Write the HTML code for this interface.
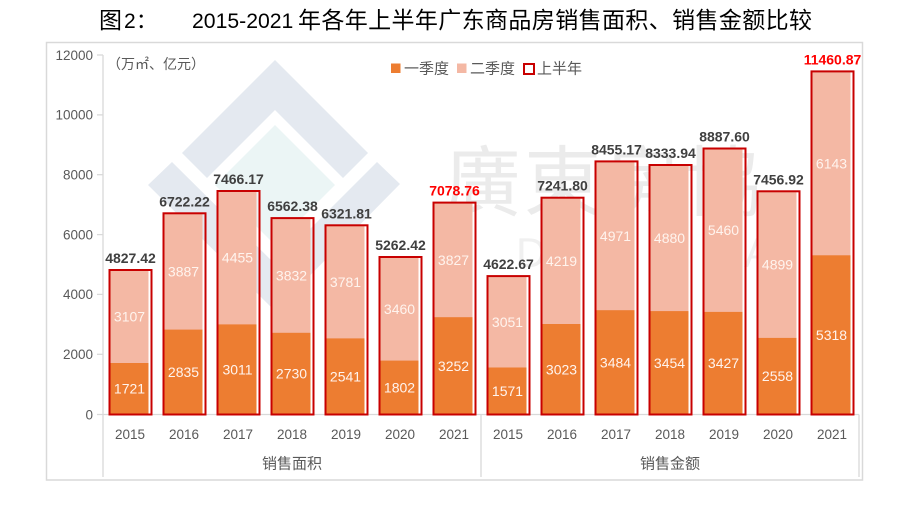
<!DOCTYPE html>
<html><head><meta charset="utf-8"><style>
html,body{margin:0;padding:0;background:#fff;}
svg{display:block;}
text{font-family:"Liberation Sans","Noto Sans CJK SC",sans-serif;}
.cjk{font-family:"Liberation Sans","Noto Sans CJK SC",sans-serif;}
.tk{font-size:13.5px;fill:#595959;}
.in{font-size:14px;fill:#fff4ee;text-anchor:middle;}
.tot{font-size:14px;font-weight:bold;fill:#404040;text-anchor:middle;}
.red{fill:#ff0000;}
</style></head><body>
<svg width="912" height="514" viewBox="0 0 912 514" xmlns="http://www.w3.org/2000/svg">
<rect width="912" height="514" fill="#fff"/>
<!-- Title -->
<text x="99" y="28" font-size="23" fill="#000" class="cjk">图</text>
<text x="124" y="28" font-size="21" fill="#000">2</text>
<text x="136" y="28" font-size="21" fill="#000" class="cjk">：</text>
<text x="192" y="28" font-size="21.2" fill="#000">2015-2021</text>
<text x="298" y="28" font-size="23" fill="#000" class="cjk" textLength="514" lengthAdjust="spacing">年各年上半年广东商品房销售面积、销售金额比较</text>

<!-- chart border -->
<rect x="46.5" y="42.5" width="816" height="437.5" fill="none" stroke="#d9d9d9" stroke-width="1.5"/>

<!-- watermark -->
<g>
<polygon points="275,60 368,153 343,178 275,110 207,178 182,153" fill="#e4e9f0"/>
<polygon points="275,125 335,185 275,245 215,185" fill="#ebf5f5"/>
<polygon points="172,162 148,185 275,311 400,184 377,162 275,264" fill="#e4e9f0"/>
<text x="444" y="210" font-size="77" fill="#ebebeb" class="cjk" letter-spacing="3">廣東房協</text>
<text x="516" y="267" font-size="42" fill="#f0f0f0">D</text>
<text x="744" y="267" font-size="42" fill="#f0f0f0">A</text>
</g>

<!-- y axis -->
<g stroke="#d9d9d9" stroke-width="1.3">
<line x1="103" y1="55" x2="103" y2="477"/>
<line x1="97" y1="55" x2="103" y2="55"/>
<line x1="97" y1="114.9" x2="103" y2="114.9"/>
<line x1="97" y1="174.7" x2="103" y2="174.7"/>
<line x1="97" y1="234.6" x2="103" y2="234.6"/>
<line x1="97" y1="294.4" x2="103" y2="294.4"/>
<line x1="97" y1="354.3" x2="103" y2="354.3"/>
<line x1="97" y1="414.5" x2="859" y2="414.5"/>
<line x1="481" y1="414.5" x2="481" y2="477"/>
<line x1="859" y1="414.5" x2="859" y2="477"/>
</g>
<g class="tk" text-anchor="end">
<text x="93" y="59.8" class="tk">12000</text>
<text x="93" y="119.7" class="tk">10000</text>
<text x="93" y="179.5" class="tk">8000</text>
<text x="93" y="239.4" class="tk">6000</text>
<text x="93" y="299.2" class="tk">4000</text>
<text x="93" y="359.1" class="tk">2000</text>
<text x="93" y="419.3" class="tk">0</text>
</g>

<!-- unit -->
<text x="107" y="69" font-size="14" fill="#595959" class="cjk">（万㎡、亿元）</text>

<!-- legend -->
<rect x="391" y="63.5" width="9.5" height="9.5" fill="#ed7d31"/>
<text x="404" y="73.5" font-size="15" fill="#595959" class="cjk">一季度</text>
<rect x="457" y="63.5" width="9.5" height="9.5" fill="#f4b8a4"/>
<text x="470" y="73.5" font-size="15" fill="#595959" class="cjk">二季度</text>
<rect x="524" y="64" width="10" height="10" fill="#fff" stroke="#c80000" stroke-width="2"/>
<text x="537" y="73.5" font-size="15" fill="#595959" class="cjk">上半年</text>

<!-- bars -->
<g transform="translate(0.5,0)">
<!-- fills Q2 (full to total) then Q1 -->
<g fill="#f4b8a4">
<rect x="110" y="270.0" width="38" height="144.5"/>
<rect x="164" y="213.3" width="38" height="201.2"/>
<rect x="218" y="191.0" width="38" height="223.5"/>
<rect x="272" y="218.1" width="38" height="196.4"/>
<rect x="326" y="225.3" width="38" height="189.2"/>
<rect x="380" y="257.0" width="38" height="157.5"/>
<rect x="434" y="202.6" width="38" height="211.9"/>
<rect x="488" y="276.1" width="38" height="138.4"/>
<rect x="542" y="197.7" width="38" height="216.8"/>
<rect x="596" y="161.4" width="38" height="253.1"/>
<rect x="650" y="165.0" width="38" height="249.5"/>
<rect x="704" y="148.5" width="38" height="266.0"/>
<rect x="758" y="191.3" width="38" height="223.2"/>
<rect x="812" y="71.4" width="38" height="343.1"/>
</g>
<g fill="#ed7d31">
<rect x="110" y="363.0" width="38" height="51.5"/>
<rect x="164" y="329.6" width="38" height="84.9"/>
<rect x="218" y="324.4" width="38" height="90.1"/>
<rect x="272" y="332.8" width="38" height="81.7"/>
<rect x="326" y="338.4" width="38" height="76.1"/>
<rect x="380" y="360.6" width="38" height="53.9"/>
<rect x="434" y="317.2" width="38" height="97.3"/>
<rect x="488" y="367.5" width="38" height="47.0"/>
<rect x="542" y="324.0" width="38" height="90.5"/>
<rect x="596" y="310.2" width="38" height="104.3"/>
<rect x="650" y="311.1" width="38" height="103.4"/>
<rect x="704" y="311.9" width="38" height="102.6"/>
<rect x="758" y="337.9" width="38" height="76.6"/>
<rect x="812" y="255.3" width="38" height="159.2"/>
</g>
<g fill="none" stroke="#c80000" stroke-width="2">
<rect x="109" y="270.0" width="42" height="144.5"/>
<rect x="163" y="213.3" width="42" height="201.2"/>
<rect x="217" y="191.0" width="42" height="223.5"/>
<rect x="271" y="218.1" width="42" height="196.4"/>
<rect x="325" y="225.3" width="42" height="189.2"/>
<rect x="379" y="257.0" width="42" height="157.5"/>
<rect x="433" y="202.6" width="42" height="211.9"/>
<rect x="487" y="276.1" width="42" height="138.4"/>
<rect x="541" y="197.7" width="42" height="216.8"/>
<rect x="595" y="161.4" width="42" height="253.1"/>
<rect x="649" y="165.0" width="42" height="249.5"/>
<rect x="703" y="148.5" width="42" height="266.0"/>
<rect x="757" y="191.3" width="42" height="223.2"/>
<rect x="811" y="71.4" width="42" height="343.1"/>
</g>

<!-- Q1 labels -->
<g class="in">
<text x="129" y="393.7" class="in">1721</text>
<text x="183" y="377.1" class="in">2835</text>
<text x="237" y="374.4" class="in">3011</text>
<text x="291" y="378.6" class="in">2730</text>
<text x="345" y="381.5" class="in">2541</text>
<text x="399" y="392.5" class="in">1802</text>
<text x="453" y="370.8" class="in">3252</text>
<text x="507" y="396.0" class="in">1571</text>
<text x="561" y="374.3" class="in">3023</text>
<text x="615" y="367.4" class="in">3484</text>
<text x="669" y="367.8" class="in">3454</text>
<text x="723" y="368.2" class="in">3427</text>
<text x="777" y="381.2" class="in">2558</text>
<text x="831" y="339.9" class="in">5318</text>
</g>
<!-- Q2 labels -->
<g>
<text x="129" y="321.5" class="in">3107</text>
<text x="183" y="276.5" class="in">3887</text>
<text x="237" y="262.7" class="in">4455</text>
<text x="291" y="280.4" class="in">3832</text>
<text x="345" y="286.9" class="in">3781</text>
<text x="399" y="313.8" class="in">3460</text>
<text x="453" y="264.9" class="in">3827</text>
<text x="507" y="326.8" class="in">3051</text>
<text x="561" y="265.9" class="in">4219</text>
<text x="615" y="240.8" class="in">4971</text>
<text x="669" y="243.1" class="in">4880</text>
<text x="723" y="235.2" class="in">5460</text>
<text x="777" y="269.6" class="in">4899</text>
<text x="831" y="168.4" class="in">6143</text>
</g>
<!-- totals -->
<g>
<text x="130" y="263.0" class="tot">4827.42</text>
<text x="184" y="206.3" class="tot">6722.22</text>
<text x="238" y="184.0" class="tot">7466.17</text>
<text x="292" y="211.1" class="tot">6562.38</text>
<text x="346" y="218.3" class="tot">6321.81</text>
<text x="400" y="250.0" class="tot">5262.42</text>
<text x="454" y="195.6" class="tot red">7078.76</text>
<text x="508" y="269.1" class="tot">4622.67</text>
<text x="562" y="190.7" class="tot">7241.80</text>
<text x="616" y="154.4" class="tot">8455.17</text>
<text x="670" y="158.0" class="tot">8333.94</text>
<text x="724" y="141.5" class="tot">8887.60</text>
<text x="778" y="184.3" class="tot">7456.92</text>
<text x="832" y="64.4" class="tot red">11460.87</text>
</g>
</g>

<!-- x labels -->
<g text-anchor="middle">
<text x="130" y="439" class="tk">2015</text>
<text x="184" y="439" class="tk">2016</text>
<text x="238" y="439" class="tk">2017</text>
<text x="292" y="439" class="tk">2018</text>
<text x="346" y="439" class="tk">2019</text>
<text x="400" y="439" class="tk">2020</text>
<text x="454" y="439" class="tk">2021</text>
<text x="508" y="439" class="tk">2015</text>
<text x="562" y="439" class="tk">2016</text>
<text x="616" y="439" class="tk">2017</text>
<text x="670" y="439" class="tk">2018</text>
<text x="724" y="439" class="tk">2019</text>
<text x="778" y="439" class="tk">2020</text>
<text x="832" y="439" class="tk">2021</text>
<text x="292" y="468.5" font-size="15" fill="#595959" class="cjk">销售面积</text>
<text x="670" y="468.5" font-size="15" fill="#595959" class="cjk">销售金额</text>
</g>
</svg>
</body></html>
